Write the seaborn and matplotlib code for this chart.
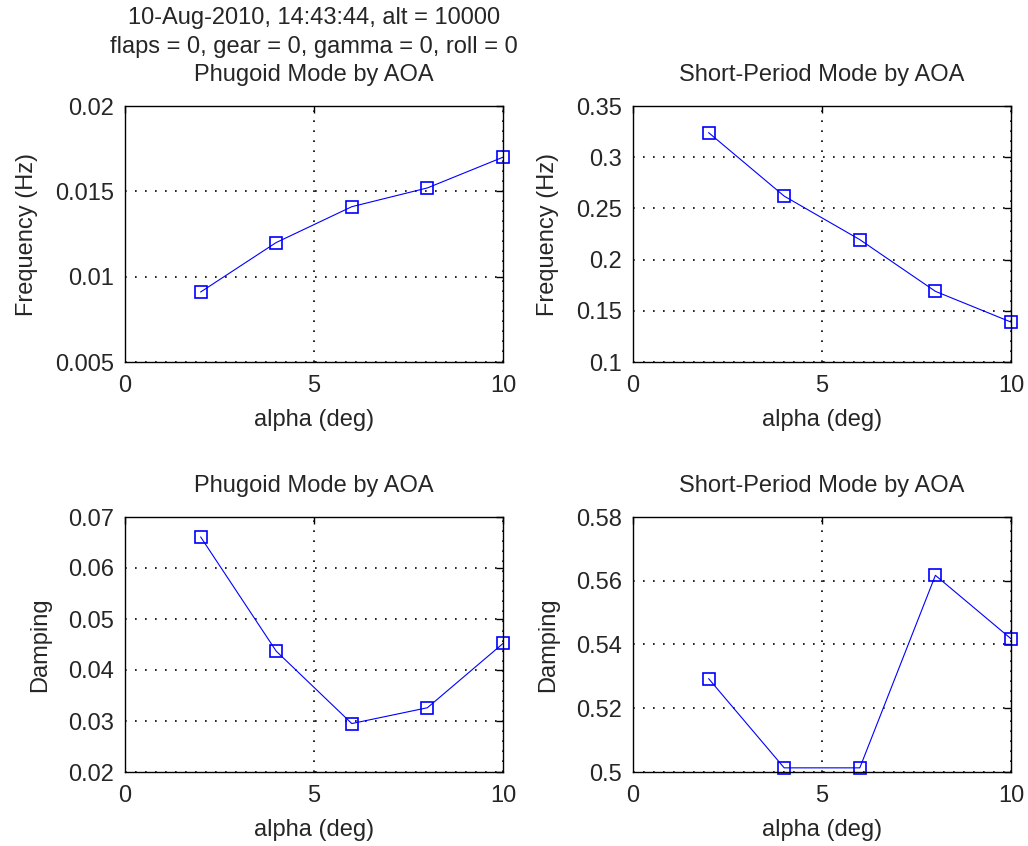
import matplotlib
matplotlib.use("Agg")
import matplotlib.pyplot as plt
import seaborn as sns
import numpy as np
import pandas as pd

alpha = [2, 4, 6, 8, 10]
phugoid_freq = [0.0091, 0.0120, 0.0141, 0.0152, 0.0170]
short_freq = [0.324, 0.262, 0.2195, 0.169, 0.139]
phugoid_damp = [0.0661, 0.0437, 0.0295, 0.0326, 0.0452]
short_damp = [0.5293, 0.5013, 0.5013, 0.5617, 0.5418]

header = "10-Aug-2010, 14:43:44, alt = 10000\nflaps = 0, gear = 0, gamma = 0, roll = 0\n"

sns.set_style("white")
plt.rcParams['font.family'] = ['Liberation Sans', 'DejaVu Sans']

fig = plt.figure(figsize=(10.28, 8.46), dpi=100)
W, H = 1028, 846

def add_axes(x0, x1, y0, y1):
    return fig.add_axes([x0 / W, 1 - y1 / H, (x1 - x0) / W, (y1 - y0) / H])

panels = [
    (add_axes(125, 503, 106, 362), phugoid_freq, "Frequency (Hz)", header + "Phugoid Mode by AOA",
     (0.005, 0.02), [0.005, 0.01, 0.015, 0.02], ["0.005", "0.01", "0.015", "0.02"]),
    (add_axes(633, 1011, 106, 362), short_freq, "Frequency (Hz)", "Short-Period Mode by AOA",
     (0.1, 0.35), [0.1, 0.15, 0.2, 0.25, 0.3, 0.35], ["0.1", "0.15", "0.2", "0.25", "0.3", "0.35"]),
    (add_axes(125, 503, 517, 772), phugoid_damp, "Damping", "Phugoid Mode by AOA",
     (0.02, 0.07), [0.02, 0.03, 0.04, 0.05, 0.06, 0.07], ["0.02", "0.03", "0.04", "0.05", "0.06", "0.07"]),
    (add_axes(633, 1011, 517, 772), short_damp, "Damping", "Short-Period Mode by AOA",
     (0.5, 0.58), [0.5, 0.52, 0.54, 0.56, 0.58], ["0.5", "0.52", "0.54", "0.56", "0.58"]),
]

fs = 17
for ax, vals, ylab, title, ylim, yt, ytl in panels:
    df = pd.DataFrame({"alpha": alpha, "val": vals})
    sns.lineplot(data=df, x="alpha", y="val", ax=ax, color="#0000ff", linewidth=0.8,
                 marker="s", markersize=9, markerfacecolor="none",
                 markeredgecolor="#0000ff", markeredgewidth=1.2, clip_on=False)
    ax.set_xlim(0, 10)
    ax.set_ylim(*ylim)
    ax.set_xticks([0, 5, 10])
    ax.set_xticklabels(["0", "5", "10"])
    ax.set_yticks(yt)
    ax.set_yticklabels(ytl)
    ax.grid(True, color="black", linestyle=(0, (1, 5)), linewidth=1.2)
    ax.tick_params(direction="in", top=True, right=True, length=5, width=1,
                   labelsize=fs, color="black")
    ax.tick_params(axis="x", pad=9)
    ax.tick_params(axis="y", pad=8)
    for s in ax.spines.values():
        s.set_color("black")
        s.set_linewidth(1.0)
    ax.set_xlabel("alpha (deg)", fontsize=fs, labelpad=9)
    ax.set_ylabel(ylab, fontsize=fs, labelpad=12)
    ax.set_title(title, fontsize=fs, linespacing=1.38, pad=18)

fig.savefig("out.png", dpi=100, facecolor="white")
